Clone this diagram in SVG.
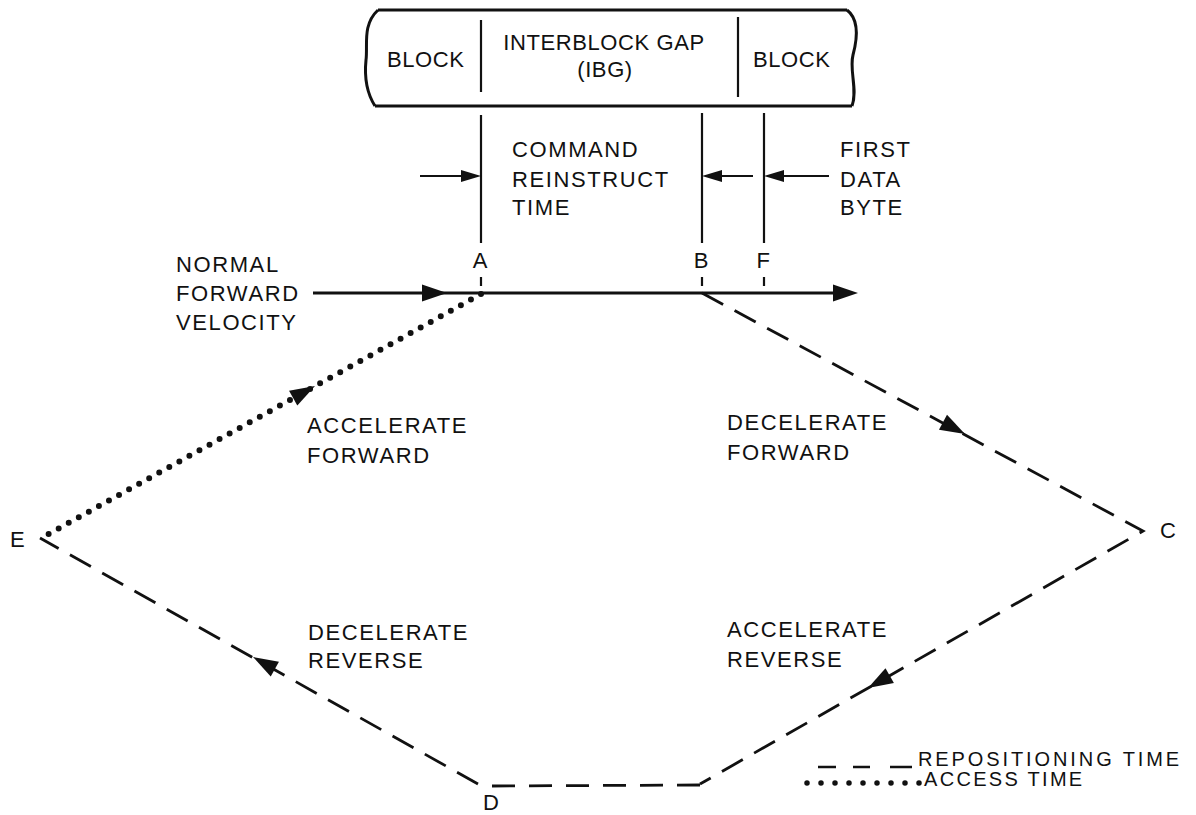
<svg xmlns="http://www.w3.org/2000/svg" xmlns:xlink="http://www.w3.org/1999/xlink" width="1196" height="815" viewBox="0 0 1196 815">
<style>
  text { font-family: "Liberation Sans", Arial, sans-serif; fill: #111; }
  .lbl { font-size: 22px; letter-spacing: 1.6px; }
  .tape { font-size: 22px; letter-spacing: 0.6px; }
  .leg { font-size: 20px; letter-spacing: 2.9px; }
  .solid { stroke: #111; fill: none; stroke-width: 2.2; }
  .thick { stroke: #111; fill: none; stroke-width: 3; }
  .dash { stroke: #111; fill: none; stroke-width: 2.8; stroke-dasharray: 24 13; }
  .dots { stroke: #111; fill: none; stroke-width: 6; stroke-linecap: round; stroke-dasharray: 0 11.5; }
  .head { fill: #111; }
</style>
<defs>
  <path id="ah" d="M0,0 L-25,-8.5 L-25,8.5 Z"/>
  <path id="ahs" d="M0,0 L-20,-6 L-20,6 Z"/>
</defs>
<rect width="1196" height="815" fill="#fff"/>

<g id="tape">
  <path class="thick" d="M378,10 L847,10"/>
  <path class="thick" d="M375,106 L852,106"/>
  <path class="thick" d="M378,10 C362,25 368,45 366,60 C364,80 368,95 375,106"/>
  <path class="thick" d="M847,10 C860,20 857,40 853,55 C849,70 858,90 852,106"/>
  <path class="solid" d="M481,20 L481,92 M738,17 L738,97"/>
  <text class="tape" x="387" y="67">BLOCK</text>
  <text class="tape" x="604" y="50" text-anchor="middle">INTERBLOCK GAP</text>
  <text class="tape" x="605" y="77" text-anchor="middle">(IBG)</text>
  <text class="tape" x="753" y="67">BLOCK</text>
</g>

<g id="markers">
  <path class="solid" d="M481,115 L481,243 M702,113 L702,243 M764,113 L764,243"/>
  <path class="solid" d="M481,277 L481,286 M702,277 L702,286 M764,277 L764,286"/>
  <text class="lbl" x="481" y="268" text-anchor="middle">A</text>
  <text class="lbl" x="702" y="268" text-anchor="middle">B</text>
  <text class="lbl" x="764" y="268" text-anchor="middle">F</text>
</g>

<g id="command-reinstruct">
  <path class="solid" d="M420,176 L465,176"/>
  <use xlink:href="#ahs" href="#ahs" class="head" transform="translate(481,176)"/>
  <path class="solid" d="M718,176 L753,176"/>
  <use xlink:href="#ahs" href="#ahs" class="head" transform="translate(702,176) rotate(180)"/>
  <text class="lbl" x="512" y="157">COMMAND</text>
  <text class="lbl" x="512" y="187">REINSTRUCT</text>
  <text class="lbl" x="512" y="215">TIME</text>
</g>

<g id="first-data-byte">
  <path class="solid" d="M780,176 L829,176"/>
  <use xlink:href="#ahs" href="#ahs" class="head" transform="translate(764,176) rotate(180)"/>
  <text class="lbl" x="840" y="157">FIRST</text>
  <text class="lbl" x="840" y="187">DATA</text>
  <text class="lbl" x="840" y="215">BYTE</text>
</g>

<g id="normal-forward">
  <text class="lbl" x="176" y="272">NORMAL</text>
  <text class="lbl" x="176" y="301">FORWARD</text>
  <text class="lbl" x="176" y="330">VELOCITY</text>
</g>

<g id="labels">
  <text class="lbl" x="307" y="433">ACCELERATE</text>
  <text class="lbl" x="307" y="463">FORWARD</text>
  <text class="lbl" x="727" y="430">DECELERATE</text>
  <text class="lbl" x="727" y="460">FORWARD</text>
  <text class="lbl" x="308" y="640">DECELERATE</text>
  <text class="lbl" x="308" y="668">REVERSE</text>
  <text class="lbl" x="727" y="637">ACCELERATE</text>
  <text class="lbl" x="727" y="667">REVERSE</text>
  <text class="lbl" x="10" y="547">E</text>
  <text class="lbl" x="1160" y="538">C</text>
  <text class="lbl" x="483" y="810">D</text>
</g>

<g id="connectors">
  <path class="thick" d="M313,293 L840,293"/>
  <use xlink:href="#ah" href="#ah" class="head" transform="translate(447,293)"/>
  <use xlink:href="#ah" href="#ah" class="head" transform="translate(858,293)"/>
  <path class="dots" d="M481,294 L45,536"/>
  <use xlink:href="#ah" href="#ah" class="head" transform="translate(315,386) rotate(-29.2)"/>
  <path class="dash" d="M702,293 L1143,531 L700,784"/>
  <use xlink:href="#ah" href="#ah" class="head" transform="translate(965,434) rotate(28.3)"/>
  <use xlink:href="#ah" href="#ah" class="head" transform="translate(868,688) rotate(150.2)"/>
  <path class="dash" style="stroke-dasharray:23 14" d="M700,785 L490,786"/>
  <path class="dash" d="M478,784 L40,538"/>
  <use xlink:href="#ah" href="#ah" class="head" transform="translate(253,657) rotate(209.1)"/>
</g>

<g id="legend">
  <path class="solid" style="stroke-width:2.6" d="M818,767 L836,767 M853,767 L870,767 M890,767 L912,767"/>
  <text class="leg" x="918" y="766">REPOSITIONING TIME</text>
  <path class="dots" style="stroke-width:5.5;stroke-dasharray:0 14" d="M807,783 L920,783"/>
  <text class="leg" x="924" y="786" style="letter-spacing:2.3px">ACCESS TIME</text>
</g>
</svg>
